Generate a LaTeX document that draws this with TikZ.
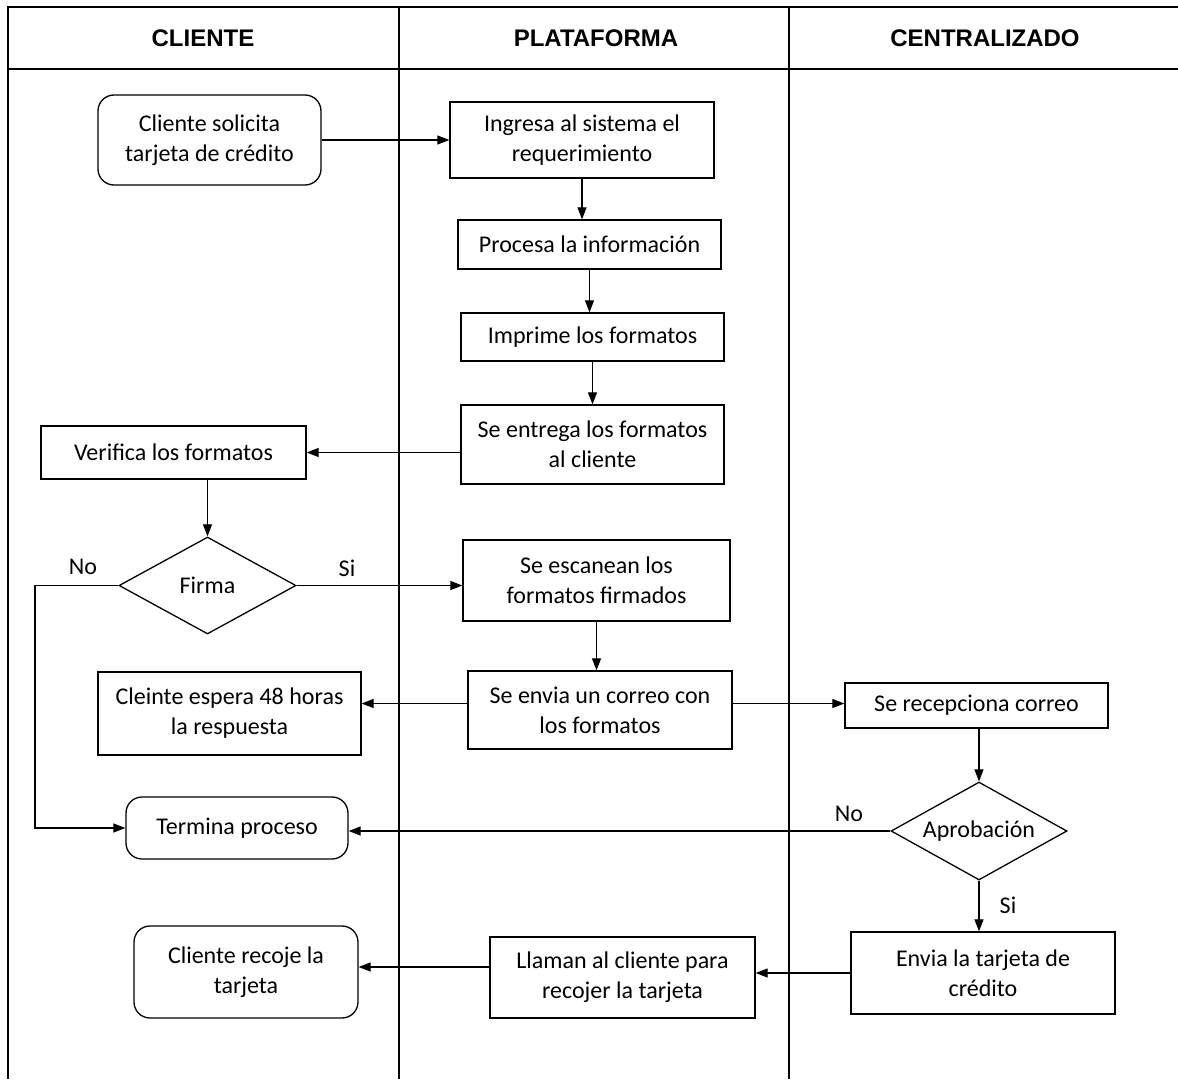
\documentclass[tikz,border=0pt]{standalone}
\usepackage{fontspec}
\setmainfont{Carlito}
\newfontfamily\headfont{Liberation Sans}
\usetikzlibrary{shapes.geometric,arrows.meta}
\begin{document}
\begin{tikzpicture}[x=1pt,y=-1pt,
  every node/.style={font=\fontsize{24}{30}\selectfont},
  proc/.style={draw,line width=1.3pt,align=center,inner sep=0pt},
  term/.style={proc,rounded corners=16pt},
  decis/.style={draw,diamond,line width=1.3pt,inner sep=0pt},
  lane/.style={line width=2pt},
  head/.style={font=\headfont\bfseries\fontsize{24}{28}\selectfont},
  arr/.style={line width=1.2pt,-{Triangle[length=12pt,width=9pt]}},
  lbl/.style={inner sep=0pt}]
\useasboundingbox (0,0) rectangle (1178,1079);
\fill[white] (0,0) rectangle (1178,1079);

% swimlane frame
\draw[lane] (1178,7) -- (8,7) -- (8,1079);
\draw[lane] (8,69) -- (1178,69);
\draw[lane] (399,7) -- (399,1079);
\draw[lane] (789,7) -- (789,1079);
\node[head] (hcli) at (203,38) {CLIENTE};
\node[head] (hpla) at (596,38) {PLATAFORMA};
\node[head] (hcen) at (985,38) {CENTRALIZADO};

% steps
\node[term,minimum width=223pt,minimum height=90pt] (cs) at (209.5,140) {Cliente solicita\\tarjeta de crédito};
\node[proc,minimum width=264pt,minimum height=76pt] (ing) at (582,140) {Ingresa al sistema el\\requerimiento};
\node[proc,minimum width=263pt,minimum height=49pt] (pro) at (589.5,244.5) {Procesa la información};
\node[proc,minimum width=263pt,minimum height=48pt] (imp) at (592.5,337) {Imprime los formatos};
\node[proc,minimum width=263pt,minimum height=79pt] (ent) at (592.5,444.5) {Se entrega los formatos\\al cliente};
\node[proc,minimum width=265pt,minimum height=53pt] (ver) at (173.5,452.5) {Verifica los formatos};
\node[decis,minimum width=177pt,minimum height=97pt,label=center:Firma] (fir) at (207.5,585.5) {};
\node[proc,minimum width=267pt,minimum height=81pt] (esc) at (596.5,580.5) {Se escanean los\\formatos firmados};
\node[proc,minimum width=264pt,minimum height=78pt] (env) at (600,710) {Se envia un correo con\\los formatos};
\node[proc,minimum width=263pt,minimum height=83pt] (esp) at (229.5,713.5) {Cleinte espera 48 horas\\la respuesta};
\node[proc,minimum width=263pt,minimum height=45pt] (rec) at (976.5,705.5) {Se recepciona correo};
\node[decis,minimum width=176pt,minimum height=98pt,label=center:Aprobación] (apr) at (979,831) {};
\node[term,minimum width=222pt,minimum height=62pt] (ter) at (237,828) {Termina proceso};
\node[proc,minimum width=264pt,minimum height=82pt] (evt) at (983,973) {Envia la tarjeta de\\crédito};
\node[proc,minimum width=265pt,minimum height=81pt] (lla) at (622.5,977.5) {Llaman al cliente para\\recojer la tarjeta};
\node[term,minimum width=224pt,minimum height=92pt] (rco) at (246,972) {Cliente recoje la\\tarjeta};

% branch labels
\node[lbl] (fsi) at (347,568) {Si};
\node[lbl] (fno) at (83,567) {No};
\node[lbl] (ano) at (849,814) {No};
\node[lbl] (asi) at (1008,905) {Si};

\coordinate (nobend) at (35,585.5);

% connectors
\draw[arr] (cs.east) -- (ing.west);
\draw[arr] (ing.south) -- (ing.south |- pro.north);
\draw[arr] (pro.south) -- (pro.south |- imp.north);
\draw[arr] (imp.south) -- (imp.south |- ent.north);
\draw[arr] (ent.west |- ver.east) -- (ver.east);
\draw[arr] (ver.south -| fir.north) -- (fir.north);
\draw[arr] (fir.east) -- (fir.east -| esc.west);
\draw[arr] (fir.west) -- (nobend) |- (ter.west);
\draw[arr] (esc.south) -- (esc.south |- env.north);
\draw[arr] ([yshift=2pt]env.west |- rec.west) -- ([yshift=2pt]esp.east |- rec.west);
\draw[arr] ([yshift=2pt]env.east |- rec.west) -- ([yshift=2pt]rec.west);
\draw[arr] (apr.north |- rec.south) -- (apr.north);
\draw[arr] (apr.west) -- (apr.west -| ter.east);
\draw[arr] (apr.south) -- (apr.south |- evt.north);
\draw[arr] (evt.west) -- (evt.west -| lla.east);
\draw[arr] ([yshift=5pt]lla.west |- rco.east) -- ([yshift=5pt]rco.east);
\end{tikzpicture}
\end{document}
